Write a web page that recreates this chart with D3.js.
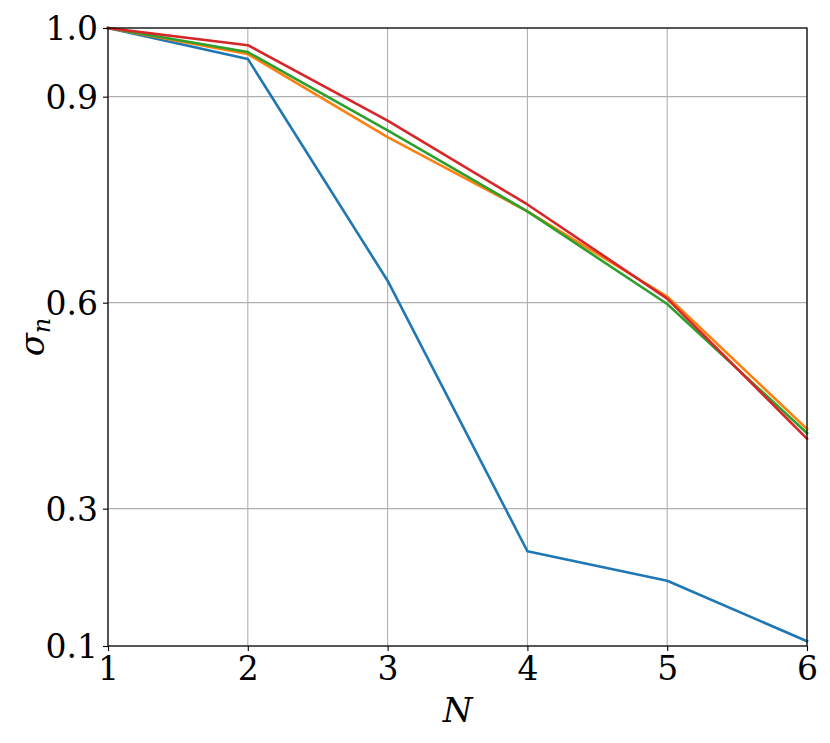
<!DOCTYPE html>
<html><head><meta charset="utf-8">
<script src="https://cdn.jsdelivr.net/npm/d3@7"></script>
<style>body{margin:0;background:#fff;} svg{display:block;} .t{font-family:"DejaVu Serif",serif;}</style>
</head><body>
<svg id="c" width="830" height="743"></svg>
<script>
const N = [1, 2, 3, 4, 5, 6];
const seriesBlue   = [1.0, 0.955, 0.632, 0.238, 0.195, 0.107];
const seriesOrange = [1.0, 0.962, 0.841, 0.733, 0.609, 0.416];
const seriesGreen  = [1.0, 0.965, 0.851, 0.733, 0.598, 0.410];
const seriesRed    = [1.0, 0.975, 0.865, 0.743, 0.606, 0.402];
const colors = ["#1f77b4", "#ff7f0e", "#2ca02c", "#d62728"];
const yTicks = [0.1, 0.3, 0.6, 0.9, 1.0];
const xTicks = [1, 2, 3, 4, 5, 6];

const svg = d3.select("#c");
const L = 108, R = 807, T = 28, B = 646;
const x = d3.scaleLinear().domain([1, 6]).range([L, R]);
const y = d3.scaleLinear().domain([0.1, 1.0]).range([B, T]);

// grid
svg.append("g").selectAll("line").data(xTicks).join("line")
  .attr("x1", d => x(d)).attr("x2", d => x(d)).attr("y1", T).attr("y2", B)
  .attr("stroke", "#b0b0b0").attr("stroke-width", 1.1);
svg.append("g").selectAll("line").data(yTicks).join("line")
  .attr("x1", L).attr("x2", R).attr("y1", d => y(d)).attr("y2", d => y(d))
  .attr("stroke", "#b0b0b0").attr("stroke-width", 1.1);

// lines
const line = d3.line().x((d, i) => x(N[i])).y(d => y(d));
[seriesBlue, seriesOrange, seriesGreen, seriesRed].forEach((s, k) => {
  svg.append("path").datum(s).attr("d", line)
    .attr("fill", "none").attr("stroke", colors[k]).attr("stroke-width", 2.6)
    .attr("stroke-linejoin", "round").attr("stroke-linecap", "square");
});

// frame
svg.append("rect").attr("x", L).attr("y", T).attr("width", R - L).attr("height", B - T)
  .attr("fill", "none").attr("stroke", "#000").attr("stroke-width", 1.2);

// axes
const xAxis = d3.axisBottom(x).tickValues(xTicks).tickFormat(d3.format("d")).tickSize(5).tickPadding(5);
const yAxis = d3.axisLeft(y).tickValues(yTicks).tickFormat(d3.format(".1f")).tickSize(5).tickPadding(5);
const gx = svg.append("g").attr("transform", `translate(0,${B})`).call(xAxis);
const gy = svg.append("g").attr("transform", `translate(${L},0)`).call(yAxis);
[gx, gy].forEach(g => {
  g.attr("font-family", null).attr("font-size", null);
  g.select(".domain").remove();
  g.selectAll(".tick line").attr("stroke", "#000").attr("stroke-width", 1.1);
  g.selectAll(".tick text").attr("class", "t").attr("fill", "#000").style("font-size", "33px").style("font-weight", "300");
});
gy.selectAll(".tick text").attr("dy", "0.36em");
gx.selectAll(".tick text").attr("dy", "0.72em");

// axis titles
svg.append("text").attr("class", "t").attr("x", x(3.5)).attr("y", 722).attr("text-anchor", "middle")
  .style("font-size", "34px").style("font-style", "italic").text("N");
const yl = svg.append("text").attr("class", "t").attr("transform", `translate(44,${(T + B) / 2}) rotate(-90)`)
  .attr("text-anchor", "middle").style("font-size", "34px").style("font-style", "italic");
yl.append("tspan").text("σ");
yl.append("tspan").attr("dy", 6).style("font-size", "24px").text("n");
</script>
</body></html>
